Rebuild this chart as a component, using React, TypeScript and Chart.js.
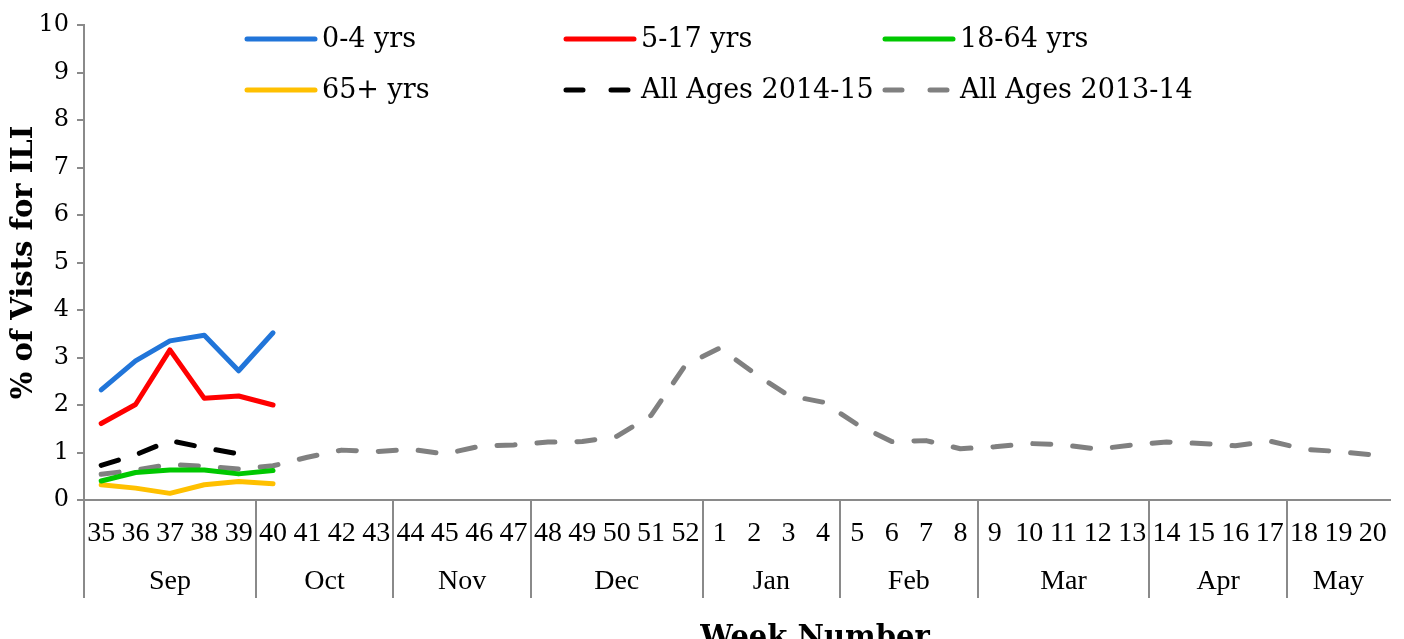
import React, { useEffect, useRef } from "react";
import { Chart, registerables } from "chart.js";

Chart.register(...registerables);

const weeks: string[] = [
  "35", "36", "37", "38", "39", "40", "41", "42", "43", "44", "45", "46", "47",
  "48", "49", "50", "51", "52", "1", "2", "3", "4", "5", "6", "7", "8", "9",
  "10", "11", "12", "13", "14", "15", "16", "17", "18", "19", "20",
];

const months: string[] = ["Sep", "Oct", "Nov", "Dec", "Jan", "Feb", "Mar", "Apr", "May"];
const monthWeekCounts: number[] = [5, 4, 4, 5, 4, 4, 5, 4, 3];

const age0to4: (number | null)[] = [2.32, 2.93, 3.35, 3.47, 2.72, 3.52];
const age5to17: (number | null)[] = [1.61, 2.01, 3.16, 2.14, 2.19, 2.0];
const age18to64: (number | null)[] = [0.4, 0.58, 0.63, 0.63, 0.55, 0.62];
const age65plus: (number | null)[] = [0.32, 0.25, 0.14, 0.32, 0.39, 0.34];
const allAges1415: (number | null)[] = [0.73, 0.95, 1.25, 1.1, 0.97];
const allAges1314: number[] = [
  0.54, 0.63, 0.75, 0.71, 0.65, 0.72, 0.9, 1.05, 1.02, 1.07, 0.97, 1.13, 1.16,
  1.22, 1.23, 1.34, 1.78, 2.84, 3.2, 2.67, 2.2, 2.06, 1.59, 1.23, 1.25, 1.08,
  1.12, 1.19, 1.16, 1.07, 1.16, 1.22, 1.19, 1.14, 1.24, 1.07, 1.02, 0.95,
];

const yTicks: number[] = [0, 1, 2, 3, 4, 5, 6, 7, 8, 9, 10];

const SERIF = "'DejaVu Serif', serif";
const TIMES = "'Liberation Serif', serif";
const AXIS_GRAY = "#8a8a8a";

type Series = { label: string; data: (number | null)[]; color: string; dashed: boolean };

const series: Series[] = [
  { label: "0-4 yrs", data: age0to4, color: "#2175D9", dashed: false },
  { label: "5-17 yrs", data: age5to17, color: "#FF0000", dashed: false },
  { label: "18-64 yrs", data: age18to64, color: "#00C800", dashed: false },
  { label: "65+ yrs", data: age65plus, color: "#FFC000", dashed: false },
  { label: "All Ages 2014-15", data: allAges1415, color: "#000000", dashed: true },
  { label: "All Ages 2013-14", data: allAges1314, color: "#808080", dashed: true },
];

const overlayPlugin = {
  id: "overlay",
  afterDraw(chart: any) {
    const ctx = chart.ctx as CanvasRenderingContext2D;
    const xs = chart.scales.x;
    const area = chart.chartArea;
    const half = (xs.getPixelForValue(1) - xs.getPixelForValue(0)) / 2;

    // month separators and labels
    ctx.save();
    ctx.strokeStyle = AXIS_GRAY;
    ctx.lineWidth = 2;
    let start = 0;
    months.forEach((m, i) => {
      const n = monthWeekCounts[i];
      const left = xs.getPixelForValue(start) - half;
      const right = xs.getPixelForValue(start + n - 1) + half;
      ctx.beginPath();
      ctx.moveTo(Math.round(left), area.bottom);
      ctx.lineTo(Math.round(left), 598);
      ctx.stroke();
      ctx.fillStyle = "#000";
      ctx.font = `28px ${TIMES}`;
      ctx.textAlign = "center";
      ctx.textBaseline = "middle";
      ctx.fillText(m, (left + right) / 2, 582);
      start += n;
    });

    // x axis title
    ctx.font = `bold 29px ${SERIF}`;
    ctx.textAlign = "center";
    ctx.textBaseline = "alphabetic";
    ctx.fillText("Week Number", 815, 646);

    // legend
    const colX = [245, 564, 883];
    const rowY = [39, 90];
    series.forEach((s, i) => {
      const x = colX[i % 3];
      const y = rowY[Math.floor(i / 3)];
      ctx.strokeStyle = s.color;
      ctx.lineWidth = 5;
      ctx.lineCap = "round";
      ctx.setLineDash(s.dashed ? [17, 28] : []);
      ctx.beginPath();
      ctx.moveTo(x + 2, y);
      ctx.lineTo(x + 70, y);
      ctx.stroke();
      ctx.setLineDash([]);
      ctx.fillStyle = "#000";
      ctx.font = `27px ${SERIF}`;
      ctx.textAlign = "left";
      ctx.textBaseline = "middle";
      ctx.fillText(s.label, x + 77, y + 1);
    });
    ctx.restore();
  },
};

export default function App() {
  const ref = useRef<HTMLCanvasElement | null>(null);

  useEffect(() => {
    if (!ref.current) return;
    const chart = new Chart(ref.current, {
      type: "line",
      data: {
        labels: weeks,
        datasets: series.map((s) => ({
          label: s.label,
          data: s.data,
          borderColor: s.color,
          backgroundColor: s.color,
          borderWidth: 5,
          borderDash: s.dashed ? [18, 22] : [],
          borderCapStyle: "round" as const,
          borderJoinStyle: "round" as const,
          pointRadius: 0,
          tension: 0,
          fill: false,
          spanGaps: false,
        })),
      },
      options: {
        animation: false,
        responsive: false,
        events: [],
        layout: { padding: { top: 25, right: 14, left: 0, bottom: 0 } },
        plugins: { legend: { display: false }, tooltip: { enabled: false } },
        scales: {
          x: {
            offset: true,
            grid: { display: false, drawTicks: false },
            border: { color: AXIS_GRAY, width: 2 },
            ticks: {
              autoSkip: false,
              maxRotation: 0,
              minRotation: 0,
              color: "#000",
              font: { family: TIMES, size: 28 },
              padding: 17,
            },
            afterFit: (s: any) => {
              s.height = 139;
            },
          },
          y: {
            min: 0,
            max: 10,
            afterBuildTicks: (s: any) => {
              s.ticks = yTicks.map((v) => ({ value: v }));
            },
            ticks: {
              color: "#000",
              font: { family: SERIF, size: 24 },
              padding: 8,
            },
            grid: { drawOnChartArea: false, drawTicks: true, tickLength: 7, color: AXIS_GRAY, lineWidth: 2 },
            border: { color: AXIS_GRAY, width: 2 },
            title: {
              display: true,
              text: "% of Vists for ILI",
              color: "#000",
              font: { family: SERIF, size: 29, weight: "bold" },
              padding: { top: 7, bottom: 3 },
            },
            afterFit: (s: any) => {
              s.width = 84;
            },
          },
        },
      },
      plugins: [overlayPlugin],
    });
    return () => chart.destroy();
  }, []);

  return (
    <div style={{ position: "fixed", left: 0, top: 0, width: 1404, height: 639, background: "#fff" }}>
      <canvas ref={ref} width={1404} height={639} style={{ width: 1404, height: 639 }} />
    </div>
  );
}
